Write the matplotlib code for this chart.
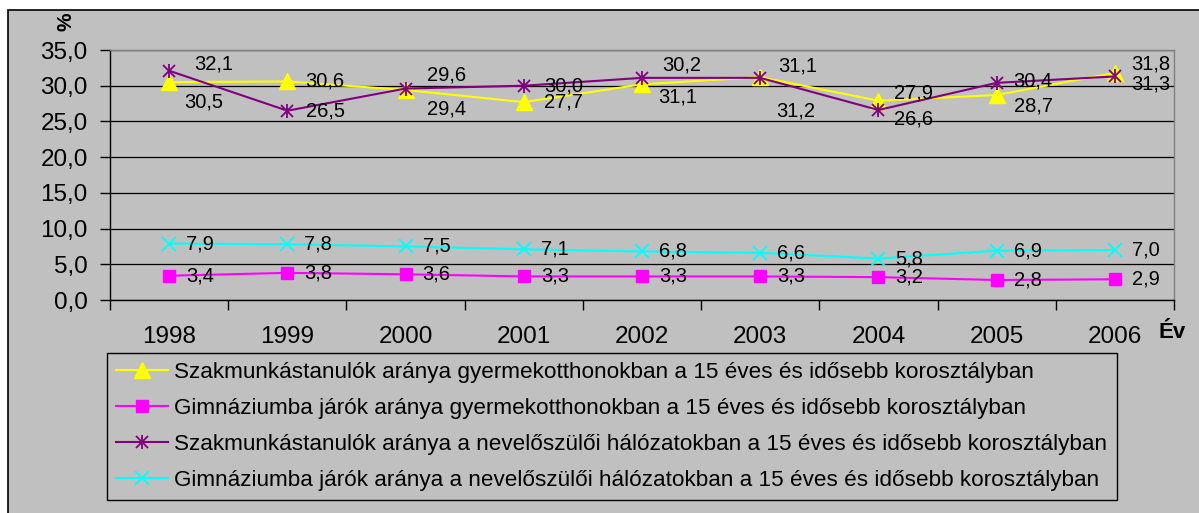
import numpy as np
import matplotlib
matplotlib.use("Agg")
import matplotlib.pyplot as plt
from matplotlib.patches import Rectangle
from matplotlib.legend_handler import HandlerTuple
from matplotlib.ticker import FuncFormatter, FixedLocator

plt.rcParams['font.family'] = ['Liberation Sans', 'DejaVu Sans']

years = ['1998', '1999', '2000', '2001', '2002', '2003', '2004', '2005', '2006']
szakmunkas_otthon = [30.5, 30.6, 29.4, 27.7, 30.2, 31.2, 27.9, 28.7, 31.8]
gimnazium_otthon = [3.4, 3.8, 3.6, 3.3, 3.3, 3.3, 3.2, 2.8, 2.9]
szakmunkas_nevelo = [32.1, 26.5, 29.6, 30.0, 31.1, 31.1, 26.6, 30.4, 31.3]
gimnazium_nevelo = [7.9, 7.8, 7.5, 7.1, 6.8, 6.6, 5.8, 6.9, 7.0]

labels = [
    'Szakmunkástanulók aránya gyermekotthonokban a 15 éves és idősebb korosztályban',
    'Gimnáziumba járók aránya gyermekotthonokban a 15 éves és idősebb korosztályban',
    'Szakmunkástanulók aránya a nevelőszülői hálózatokban a 15 éves és idősebb korosztályban',
    'Gimnáziumba járók aránya a nevelőszülői hálózatokban a 15 éves és idősebb korosztályban',
]

# label offsets in pixels (hand placed in the original)
yellow_off = [(15, -20), (18, 0), (21, -19), (20, 0), (20, 19), (16, -34), (16, 8), (17, -11), (16, 9)]
purple_off = [(25, 7), (19, 0), (21, 14), (20, 0), (16, -19), (18, 12), (16, -9), (17, 2), (16, -8)]
plain_off = [(17, 0)] * 9

GRAY = '#C0C0C0'
W, H = 1199, 513

fig = plt.figure(figsize=(W / 100, H / 100), dpi=100, facecolor='white')
fig.patches.append(Rectangle((8 / W, -0.1), 1.2, 1 - 10 / H + 0.1, transform=fig.transFigure,
                             facecolor=GRAY, edgecolor='black', linewidth=1.2, zorder=-10))

ax = fig.add_axes([110 / W, 1 - 300 / H, (1174 - 110) / W, 250 / H])
ax.set_facecolor(GRAY)

x = np.arange(len(years))
y_line, = ax.plot(x, szakmunkas_otthon, color='#FFFF00', lw=1.5, marker='^', ms=11, zorder=3)
m_line, = ax.plot(x, gimnazium_otthon, color='#FF00FF', lw=1.5, marker='s', ms=9, zorder=3)
p_line, = ax.plot(x, szakmunkas_nevelo, color='#800080', lw=1.5, marker='x', ms=8, mew=1.3, zorder=4)
p_bar, = ax.plot(x, szakmunkas_nevelo, color='#800080', ls='none', marker='|', ms=10, mew=1.3, zorder=4)
c_line, = ax.plot(x, gimnazium_nevelo, color='#00FFFF', lw=1.5, marker='x', ms=10, mew=1.3, zorder=4)


def fmt(v):
    return f'{v:.1f}'.replace('.', ',')


for vals, offs in [(szakmunkas_otthon, yellow_off), (gimnazium_otthon, plain_off),
                   (szakmunkas_nevelo, purple_off), (gimnazium_nevelo, plain_off)]:
    for i, v in enumerate(vals):
        ax.annotate(fmt(v), (i, v), xytext=offs[i], textcoords='offset pixels',
                    ha='left', va='center', fontsize=14.5, zorder=5)

ax.set_xlim(-0.5, len(years) - 0.5)
ax.set_ylim(0, 35)
ax.set_yticks(np.arange(0, 36, 5))
ax.yaxis.set_major_formatter(FuncFormatter(lambda v, p: fmt(v)))
ax.grid(axis='y', color='black', lw=0.9)
ax.set_axisbelow(True)

ax.set_xticks(x)
ax.set_xticklabels(years)
ax.xaxis.set_minor_locator(FixedLocator(np.arange(-0.5, len(years), 1)))
ax.tick_params(axis='x', which='major', length=0, pad=19, labelsize=17.5)
ax.tick_params(axis='x', which='minor', length=7, width=1, color='black')
ax.tick_params(axis='y', length=7, width=1, pad=9, labelsize=17.5)

for s in ['left', 'bottom']:
    ax.spines[s].set_color('black')
    ax.spines[s].set_linewidth(1)
for s in ['right', 'top']:
    ax.spines[s].set_color('#808080')
    ax.spines[s].set_linewidth(1)

fig.text(66 / W, 1 - 22 / H, '%', rotation=90, ha='center', va='center', fontsize=15, fontweight='bold')
fig.text(1172 / W, 1 - 332 / H, 'Év', ha='center', va='center', fontsize=16, fontweight='bold')

leg = fig.legend([y_line, m_line, (p_line, p_bar), c_line], labels,
                 loc='upper left', bbox_to_anchor=(107 / W, 1 - 353 / H),
                 borderaxespad=0, fontsize=16.2, frameon=True, fancybox=False,
                 facecolor=GRAY, edgecolor='black', framealpha=1, handlelength=2.3,
                 handletextpad=0.3, labelspacing=0.67, borderpad=0.4,
                 handler_map={tuple: HandlerTuple(ndivide=1)})
leg.get_frame().set_linewidth(1)

fig.savefig('out.png', dpi=100, facecolor=fig.get_facecolor())
